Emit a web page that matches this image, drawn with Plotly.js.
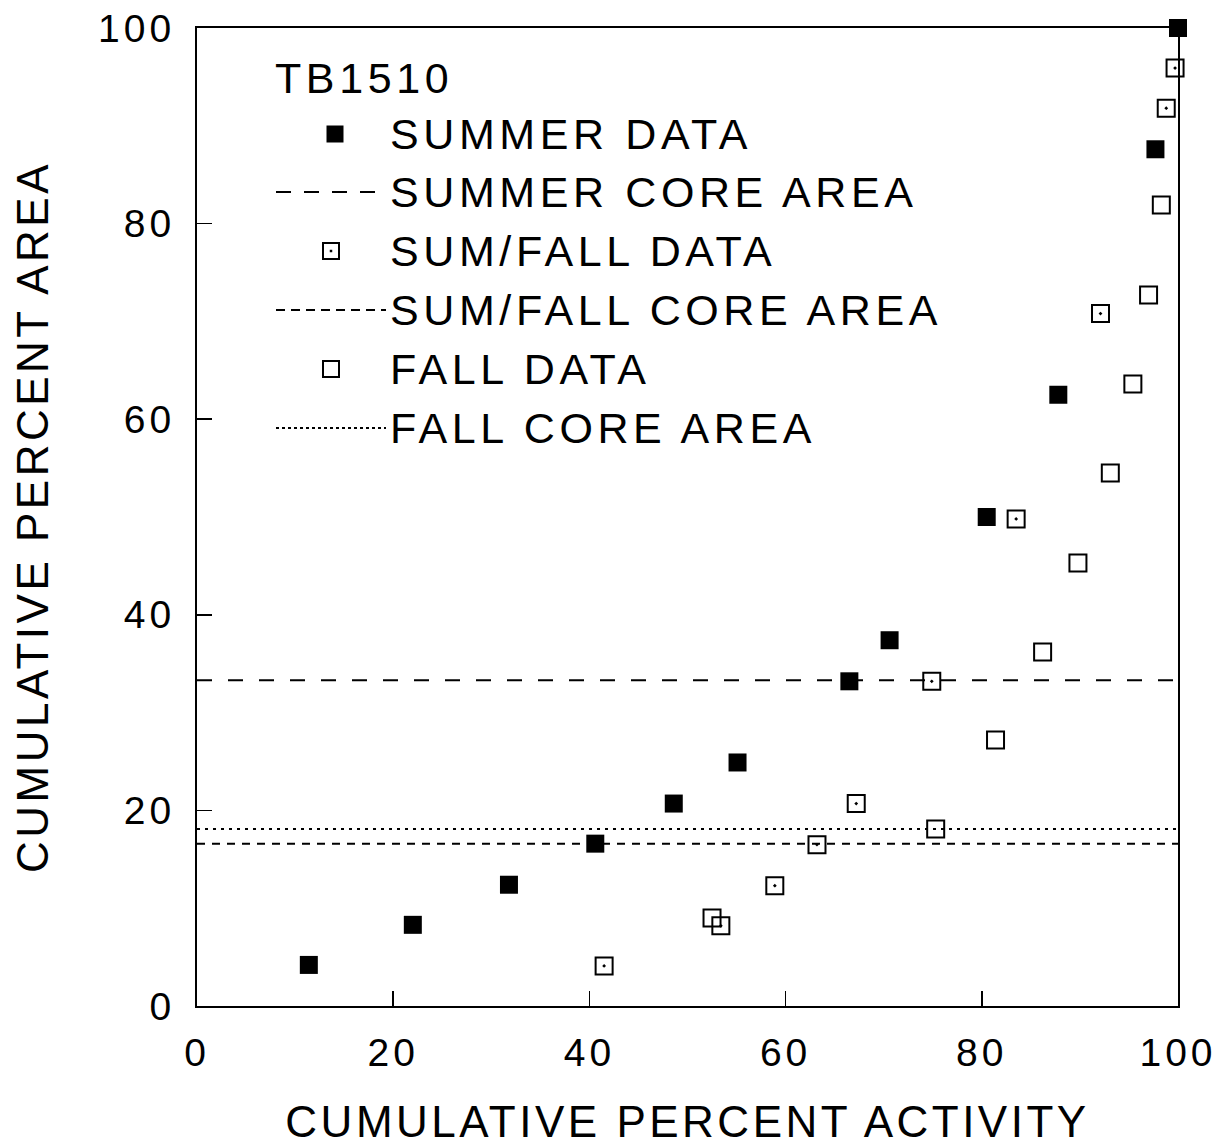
<!DOCTYPE html>
<html>
<head>
<meta charset="utf-8">
<script src="https://cdn.plot.ly/plotly-3.0.1.min.js"></script>
<style>
  html, body { margin: 0; padding: 0; background: #fff; }
  #chart { width: 1227px; height: 1146px; }
  .xtick text, .ytick text { letter-spacing: 4px; }
  text.xtitle, text.ytitle { letter-spacing: 3.5px; }
  .annotation-text { letter-spacing: 4.6px; }
</style>
</head>
<body>
<div id="chart"></div>
<script>
// ---- data ----
var summerX  = [11.4, 22.0, 31.8, 40.6, 48.6, 55.1, 66.5, 70.6, 80.5, 87.8, 97.7, 100];
var summerY  = [4.2, 8.3, 12.4, 16.6, 20.7, 24.9, 33.2, 37.4, 50.0, 62.5, 87.6, 100];
var sumFallX = [41.5, 53.4, 58.9, 63.2, 67.2, 74.9, 83.5, 92.1, 98.8, 99.7];
var sumFallY = [4.1, 8.2, 12.3, 16.5, 20.7, 33.2, 49.8, 70.8, 91.8, 95.9];
var fallX    = [52.5, 75.3, 81.4, 86.2, 89.8, 93.1, 95.4, 97.0, 98.3];
var fallY    = [9.0, 18.1, 27.2, 36.2, 45.3, 54.5, 63.6, 72.7, 81.9];
var coreX    = [0, 100];
var summerCore  = 33.3;
var sumFallCore = 16.6;
var fallCore    = 18.1;
var tickVals = [0, 20, 40, 60, 80, 100];
var tickText = ['0', '20', '40', '60', '80', '100'];
var legendTitle = 'TB1510';
var legendLabels = ['SUMMER DATA', 'SUMMER CORE AREA', 'SUM/FALL DATA', 'SUM/FALL CORE AREA', 'FALL DATA', 'FALL CORE AREA'];
var xTitle = 'CUMULATIVE PERCENT ACTIVITY';
var yTitle = 'CUMULATIVE PERCENT AREA';

// ---- layout geometry ----
var W = 1227, H = 1146;
var mL = 197, mR = 49, mT = 28, mB = 140;
var plotW = W - mL - mR, plotH = H - mT - mB;
function px(p) { return (p - mL) / plotW; }
function py(p) { return (H - mB - p) / plotH; }

var FONT = 'Liberation Sans, Arial, sans-serif';
var dashSummer = '15px,16px';
var dashSumFall = '8px,7px';
var dashFall = '3px,5px';

var traces = [
  { x: coreX, y: [summerCore, summerCore], mode: 'lines', line: {color: '#000', width: 2, dash: dashSummer}, hoverinfo: 'skip' },
  { x: coreX, y: [sumFallCore, sumFallCore], mode: 'lines', line: {color: '#000', width: 2, dash: dashSumFall}, hoverinfo: 'skip' },
  { x: coreX, y: [fallCore, fallCore], mode: 'lines', line: {color: '#000', width: 2, dash: dashFall}, hoverinfo: 'skip' },
  { x: fallX, y: fallY, mode: 'markers', cliponaxis: false,
    marker: {symbol: 'square-open', size: 17, color: '#000', line: {color: '#000', width: 2}} },
  { x: sumFallX, y: sumFallY, mode: 'markers', cliponaxis: false,
    marker: {symbol: 'square-open-dot', size: 17, color: '#000', line: {color: '#000', width: 2}} },
  { x: summerX, y: summerY, mode: 'markers', cliponaxis: false,
    marker: {symbol: 'square', size: 18, color: '#000', line: {width: 0}} }
];

// ---- custom legend ----
var rowY = [134, 192, 251, 310, 369, 428];
var textX = 388;
var annotations = [
  { xref: 'paper', yref: 'paper', x: px(273), y: py(78), xanchor: 'left', yanchor: 'middle',
    text: legendTitle, showarrow: false, font: {family: FONT, size: 43, color: '#000'} }
];
legendLabels.forEach(function (lab, i) {
  annotations.push({ xref: 'paper', yref: 'paper', x: px(textX), y: py(rowY[i]), xanchor: 'left', yanchor: 'middle',
    text: lab, showarrow: false, font: {family: FONT, size: 43, color: '#000'} });
});

function sq(cx, cy, s, filled) {
  return { type: 'rect', xref: 'paper', yref: 'paper',
    x0: px(cx - s / 2), x1: px(cx + s / 2), y0: py(cy + s / 2), y1: py(cy - s / 2),
    fillcolor: filled ? '#000' : 'rgba(0,0,0,0)', line: {color: '#000', width: filled ? 0 : 2} };
}
function hline(y, dash) {
  return { type: 'line', xref: 'paper', yref: 'paper', x0: px(276), x1: px(386), y0: py(y), y1: py(y),
    line: {color: '#000', width: 2, dash: dash} };
}
var shapes = [
  sq(335, rowY[0], 17, true),
  hline(rowY[1], '15px,13px'),
  sq(331, rowY[2], 16, false),
  sq(331, rowY[2], 2.5, true),
  hline(rowY[3], '9px,6px'),
  sq(331, rowY[4], 16, false),
  hline(rowY[5], '3px,3px')
];

var axisCommon = {
  range: [0, 100], tickvals: tickVals, ticktext: tickText,
  ticks: 'inside', ticklen: 15, tickwidth: 1.5, tickcolor: '#000',
  showline: true, linewidth: 2, linecolor: '#000', mirror: true,
  showgrid: false, zeroline: false, fixedrange: true,
  tickfont: {family: FONT, size: 39, color: '#000'}
};

var layout = {
  width: W, height: H,
  margin: {l: mL, r: mR, t: mT, b: mB, pad: 0},
  paper_bgcolor: '#fff', plot_bgcolor: '#fff',
  showlegend: false,
  font: {family: FONT, color: '#000'},
  xaxis: Object.assign({}, axisCommon, {
    ticklabelstandoff: 11,
    title: {text: xTitle, font: {family: FONT, size: 44, color: '#000'}, standoff: 36}
  }),
  yaxis: Object.assign({}, axisCommon, {
    ticklabelstandoff: 12,
    title: {text: yTitle, font: {family: FONT, size: 44, color: '#000'}, standoff: 36}
  }),
  annotations: annotations,
  shapes: shapes
};

Plotly.newPlot('chart', traces, layout, {displayModeBar: false, staticPlot: true});
</script>
</body>
</html>
